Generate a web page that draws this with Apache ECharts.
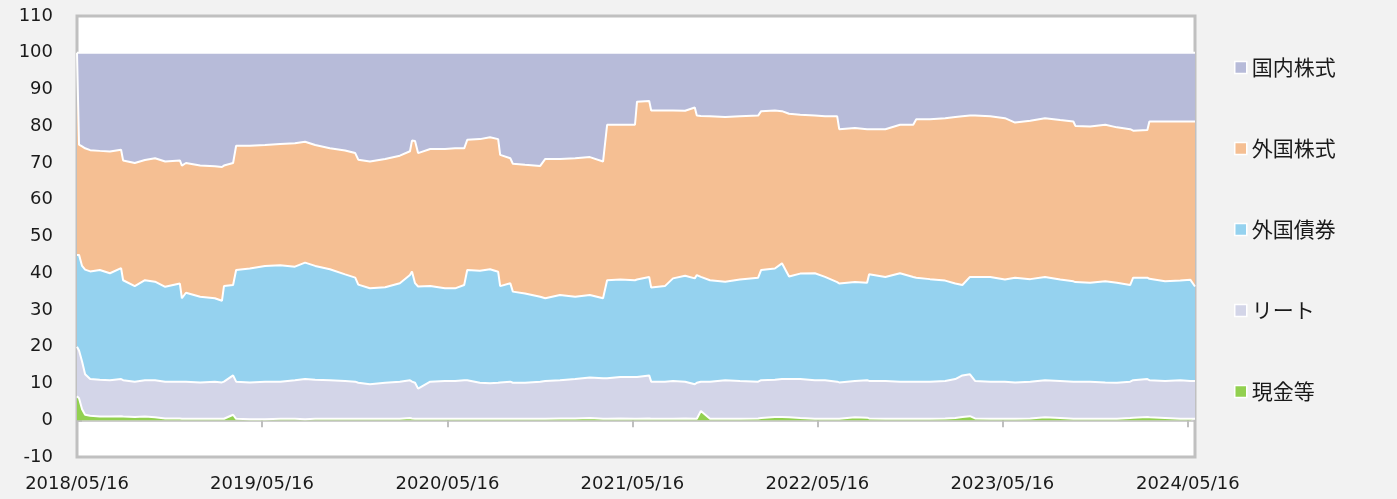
<!DOCTYPE html>
<html>
<head>
<meta charset="utf-8">
<script src="https://cdn.jsdelivr.net/npm/echarts@6/dist/echarts.min.js"></script>
<style>
html,body{margin:0;padding:0;background:#f2f2f2;}
#c{width:1397px;height:499px;}
</style>
</head>
<body>
<div id="c"></div>
<script>
const dates = ['2018-05-16','2018-05-20','2018-05-26','2018-06-01','2018-06-11','2018-06-30','2018-07-20','2018-08-11','2018-08-15','2018-09-07',
'2018-09-27','2018-10-17','2018-11-06','2018-12-05','2018-12-09','2018-12-17','2019-01-14','2019-02-12','2019-02-26','2019-03-02',
'2019-03-20','2019-03-26','2019-04-22','2019-05-22','2019-06-21','2019-07-20','2019-08-09','2019-08-29','2019-09-27','2019-10-27',
'2019-11-16','2019-11-22','2019-12-15','2020-01-14','2020-02-12','2020-03-03','2020-03-07','2020-03-13','2020-03-19','2020-04-12',
'2020-05-11','2020-05-31','2020-06-18','2020-06-24','2020-07-19','2020-08-08','2020-08-24','2020-08-28','2020-09-17','2020-09-22',
'2020-10-16','2020-11-15','2020-11-25','2020-12-24','2021-01-23','2021-02-21','2021-03-19','2021-03-27','2021-04-22','2021-05-21',
'2021-05-25','2021-06-18','2021-06-22','2021-07-19','2021-08-04','2021-08-28','2021-09-16','2021-09-20','2021-09-28','2021-10-16',
'2021-11-15','2021-12-14','2022-01-19','2022-01-25','2022-02-21','2022-03-07','2022-03-21','2022-04-12','2022-05-11','2022-05-31',
'2022-06-24','2022-06-28','2022-07-29','2022-08-22','2022-08-26','2022-09-27','2022-10-26','2022-11-21','2022-11-27','2022-12-24',
'2023-01-23','2023-02-12','2023-02-26','2023-03-13','2023-03-23','2023-04-22','2023-05-21','2023-06-10','2023-07-10','2023-08-08',
'2023-09-07','2023-10-03','2023-10-07','2023-11-05','2023-12-05','2023-12-28','2024-01-23','2024-01-29','2024-02-26','2024-03-01',
'2024-04-01','2024-05-01','2024-05-21','2024-05-30'];

// 国内株式
const domesticStock = [0,25,25.5,26,26.5,26.7,26.9,26.4,29.3,30.0,
29.2,28.7,29.6,29.3,30.7,30.0,30.7,30.9,31.1,30.7,
30.0,25.3,25.3,25.1,24.8,24.6,24.2,25.1,26.0,26.6,
27.3,29.1,29.6,28.9,28.0,26.8,23.9,24.0,27.3,26.2,
26.2,26.0,26.0,23.7,23.5,23.0,23.5,27.8,28.7,30.2,
30.5,30.8,28.9,28.9,28.7,28.4,29.6,19.6,19.6,19.6,
13.3,13.1,15.7,15.7,15.7,15.8,14.9,17.1,17.2,17.3,
17.5,17.3,17.1,15.9,15.7,15.9,16.6,16.9,17.1,17.3,
17.3,20.8,20.5,20.8,20.8,20.8,19.6,19.6,18.1,18.1,
17.8,17.5,17.3,17.1,17.1,17.3,17.8,19.0,18.5,17.8,
18.3,18.7,19.9,20.1,19.6,20.3,20.8,21.2,21.0,18.7,
18.7,18.7,18.7,18.7];

// 外国株式
const foreignStock = [55,30,32.5,33,33,32.4,33.1,32.2,32.6,33.5,
32.7,33.6,34.1,33.5,36.1,35.3,35.7,35.9,36.4,32.8,
33.2,33.8,33.4,32.9,33.0,33.6,32.9,32.9,32.9,33.7,
33.9,34.0,34.5,34.9,34.7,33.7,35.6,38.7,36.3,37.3,
37.9,38.1,37.2,35.4,35.8,35.9,36.1,35.7,34.0,34.8,
35.0,35.6,37.9,37.0,37.7,37.5,37.2,42.3,42.1,42.3,
48.4,47.9,48.2,47.8,45.7,44.9,46.5,43.4,43.8,44.6,
44.8,44.4,44.1,43.2,43.0,41.4,44.3,43.2,42.9,43.7,
45.1,42.0,41.9,41.8,39.5,40.2,40.4,41.4,43.1,43.5,
44.2,45.3,45.9,43.9,43.9,43.7,43.9,42.2,43.1,43.2,
43.4,43.5,42.5,42.5,42.6,42.3,42.4,40.0,40.2,42.8,
43.5,43.3,43.1,44.9];

// 外国債券
const foreignBond = [25,26,26,28.5,29.3,29.9,29.1,30.2,27.2,26.0,
27.2,26.8,25.8,26.7,22.7,24.2,23.3,22.7,22.2,26.0,
24.6,30.4,31.0,31.5,31.7,30.9,31.7,31.0,30.2,29.0,
28.3,26.7,26.1,26.0,26.8,28.6,30.0,27.1,27.8,26.0,
25.2,25.2,25.9,30.0,30.5,31.0,30.2,26.2,26.8,24.8,
24.3,23.1,22.5,23.2,22.4,22.5,21.8,26.7,26.5,26.3,
26.5,26.8,25.6,26.0,27.9,28.8,28.8,29.3,28.5,27.6,
26.8,27.6,28.3,30.0,30.3,31.5,27.9,28.7,29.1,28.1,
27.1,26.9,26.9,26.5,29.0,28.3,29.5,28.5,28.3,27.9,
27.3,26.0,24.6,26.5,28.3,28.5,27.8,28.5,27.9,28.1,
27.6,27.3,27.1,26.9,27.5,27.2,26.3,27.9,27.6,27.6,
27.1,27.1,27.5,25.7];

// リート
const reit = [13.5,13,13,11,10,10,9.9,10.1,9.9,9.6,
9.9,10.1,10.0,10.0,10.1,10.1,9.9,10.1,9.9,10.1,
10.7,10.1,10.0,10.2,10.1,10.5,10.9,10.6,10.5,10.3,
10.1,9.8,9.4,9.8,10.1,10.3,10.0,9.8,8.2,10.1,
10.3,10.3,10.5,10.5,9.8,9.7,9.8,9.9,10.1,9.8,
9.8,10.1,10.3,10.4,10.7,11.0,11.0,11.0,11.3,11.4,
11.4,11.7,10.1,10.1,10.3,10.0,9.4,9.8,8.0,10.1,
10.5,10.3,10.0,10.3,10.1,10.3,10.4,10.6,10.5,10.5,
10.1,9.9,9.9,10.2,10.2,10.3,10.1,10.1,10.1,10.1,
10.2,10.6,11.3,11.4,10.2,10.1,10.1,9.9,10.0,10.1,
10.1,10.1,10.1,10.1,9.9,9.8,9.9,10.2,10.3,10.1,
10.1,10.5,10.3,10.3];

// 現金等
const cash = [6.5,6,3,1.5,1.2,1.0,1.0,1.1,1.0,0.9,
1.0,0.8,0.5,0.5,0.4,0.4,0.4,0.4,0.4,0.4,
1.5,0.4,0.3,0.3,0.4,0.4,0.3,0.4,0.4,0.4,
0.4,0.4,0.4,0.4,0.4,0.6,0.5,0.4,0.4,0.4,
0.4,0.4,0.4,0.4,0.4,0.4,0.4,0.4,0.4,0.4,
0.4,0.4,0.4,0.5,0.5,0.6,0.4,0.4,0.5,0.4,
0.4,0.5,0.4,0.4,0.4,0.5,0.4,0.4,2.5,0.4,
0.4,0.4,0.5,0.6,0.9,0.9,0.8,0.6,0.4,0.4,
0.4,0.4,0.8,0.7,0.5,0.4,0.4,0.4,0.4,0.4,
0.5,0.6,0.9,1.1,0.5,0.4,0.4,0.4,0.5,0.8,
0.6,0.4,0.4,0.4,0.4,0.4,0.6,0.7,0.9,0.8,
0.6,0.4,0.4,0.4];

const tickDates = ['2018-05-16','2019-05-16','2020-05-16','2021-05-16','2022-05-16','2023-05-16','2024-05-16'];
const yTickValues = [-10,0,10,20,30,40,50,60,70,80,90,100,110];
const axisStart = '2018-05-16';
const axisEnd = '2024-05-30';
const yTicks = {min: -10, max: 110, interval: 10};

function ts(s){const p=s.split('-').map(Number);return Date.UTC(p[0],p[1]-1,p[2]);}
function fmt(v){const d=new Date(v);const m=('0'+(d.getUTCMonth()+1)).slice(-2);const dd=('0'+d.getUTCDate()).slice(-2);return d.getUTCFullYear()+'/'+m+'/'+dd;}
function pairs(arr){return arr.map((v,i)=>[ts(dates[i]),v]);}

const seriesDefs = [
  {name:'現金等', data:cash, color:'#92d050'},
  {name:'リート', data:reit, color:'#d3d5e8'},
  {name:'外国債券', data:foreignBond, color:'#95d2ef'},
  {name:'外国株式', data:foreignStock, color:'#f5bf93'},
  {name:'国内株式', data:domesticStock, color:'#b7bbd9'}
];

const chart = echarts.init(document.getElementById('c'), null, {renderer:'canvas'});
const tickTs = tickDates.map(ts);
chart.setOption({
  animation:false,
  backgroundColor:'#f2f2f2',
  textStyle:{fontFamily:'DejaVu Sans'},
  grid:{left:77,right:202,top:16,bottom:42,show:true,backgroundColor:'#ffffff',borderColor:'#c0c0c0',borderWidth:3,containLabel:false,outerBoundsMode:'none'},
  legend:{
    orient:'vertical', left:1234, top:57, padding:0, itemGap:60, itemWidth:12, itemHeight:12, icon:'rect',
    data:['国内株式','外国株式','外国債券','リート','現金等'],
    itemStyle:{borderColor:'#ffffff',borderWidth:1.5},
    textStyle:{fontFamily:'Noto Sans CJK JP',fontSize:21,color:'#1a1a1a'},
    selectedMode:false
  },
  xAxis:[{
    type:'time', min:ts(axisStart), max:ts(axisEnd), show:false, position:'bottom',
    axisLine:{onZero:false}
  },{
    type:'value', min:ts(axisStart), max:ts(axisEnd), position:'bottom',
    axisLine:{show:true,onZero:true,onZeroAxisIndex:0,lineStyle:{color:'#bfbfbf',width:1.5}},
    axisTick:{show:true,customValues:tickTs,length:7,lineStyle:{color:'#bfbfbf',width:2}},
    axisLabel:{show:false},
    splitLine:{show:false}
  },{
    type:'value', min:ts(axisStart), max:ts(axisEnd), position:'bottom', offset:0,
    axisLine:{show:false,onZero:false},
    axisTick:{show:false},
    axisLabel:{show:true,customValues:tickTs,margin:18,fontSize:18,color:'#1a1a1a',fontFamily:'DejaVu Sans',formatter:function(v){return fmt(v);}},
    splitLine:{show:false}
  }],
  yAxis:[{
    type:'value', min:yTicks.min, max:yTicks.max, interval:yTicks.interval, position:'left',
    axisLine:{show:false,onZero:false},
    axisTick:{show:true,inside:true,length:5,lineStyle:{color:'#bfbfbf',width:2}},
    axisLabel:{show:true,customValues:yTickValues,fontSize:18,color:'#1a1a1a',margin:24,fontFamily:'DejaVu Sans',formatter:function(v){return String(v);}},
    splitLine:{show:false}
  }],
  series: seriesDefs.map(s=>({
    name:s.name, type:'line', stack:'total', xAxisIndex:0, yAxisIndex:0, data:pairs(s.data),
    symbol:'none', showSymbol:false, silent:true,
    itemStyle:{color:s.color},
    lineStyle:{color:'#ffffff',width:2},
    areaStyle:{color:s.color,opacity:1}
  }))
});
</script>
</body>
</html>
